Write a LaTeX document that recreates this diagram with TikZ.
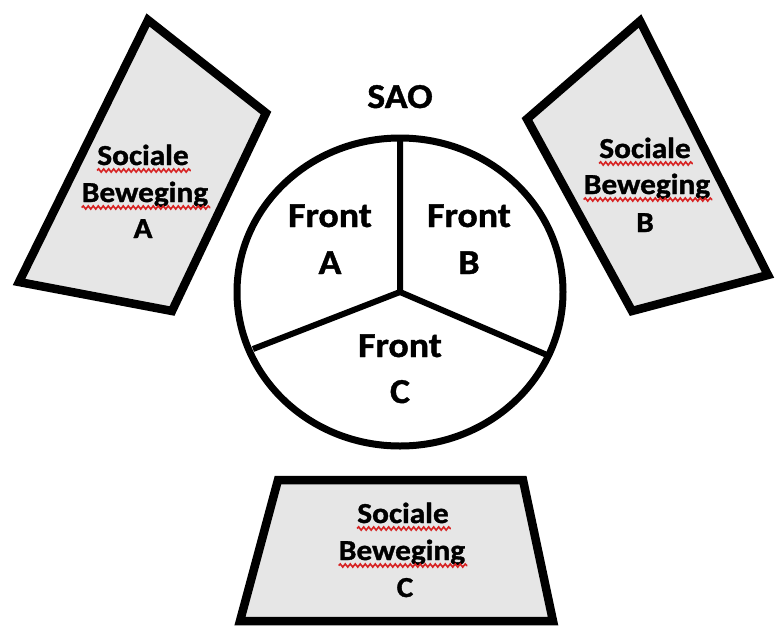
\documentclass[tikz,border=0pt]{standalone}
\usepackage{fontspec}
\setmainfont{Carlito}[FakeStretch=1.08, BoldFeatures={FakeBold=1.2}]
\usetikzlibrary{decorations.pathmorphing}
\definecolor{boxfill}{RGB}{230,230,230}
\definecolor{squigred}{RGB}{215,35,35}
\tikzset{
  smbox/.style={draw=black, fill=boxfill, line width=8.5pt, line join=miter},
  ring/.style={draw=black, line width=7pt},
  spoke/.style={draw=black, line width=6pt},
  bigtxt/.style={font=\bfseries\fontsize{35}{35}\selectfont, inner sep=0pt, anchor=base},
  smtxt/.style={font=\bfseries\fontsize{29}{29}\selectfont, inner sep=0pt, anchor=base},
  squig/.style={draw=squigred, line width=1.6pt, decorate, decoration={snake, amplitude=1.6pt, segment length=5pt}},
}
\newcommand{\squigunder}[1]{\draw[squig] ([yshift=-5.5pt]#1.base west) -- ([yshift=-5.5pt,xshift=2pt]#1.base east);}
\begin{document}
\begin{tikzpicture}[x=1pt, y=-1pt]
\useasboundingbox[fill=white] (0,0) rectangle (780,625);
% side boxes
\draw[smbox] (148,20) -- (266,113) -- (172,311) -- (19,282) -- cycle;
\draw[smbox] (640,21) -- (768,275) -- (632,311) -- (527,119) -- cycle;
\draw[smbox] (278,480) -- (523,480) -- (553,621) -- (240,621) -- cycle;
% circle
\coordinate (c) at (400,292);
\draw[ring] (c) ellipse [x radius=163, y radius=154];
\coordinate (top) at (400,137);
\coordinate (ll) at (253,349);
\coordinate (lr) at (547,355);
\draw[spoke] (top) -- (c) -- (ll);
\draw[spoke] (c) -- (lr);
% texts
\node[bigtxt] (sao) at (400,108) {SAO};
\node[bigtxt] (fa1) at (330,227) {Front};
\node[bigtxt] (fa2) at (330,274) {A};
\node[bigtxt] (fb1) at (469,227) {Front};
\node[bigtxt] (fb2) at (469,274) {B};
\node[bigtxt] (fc1) at (400,357) {Front};
\node[bigtxt] (fc2) at (400,403) {C};
% box texts
\node[smtxt] (sa1) at (143,165) {Sociale};
\node[smtxt] (sa2) at (145,202) {Beweging};
\node[smtxt] (sa3) at (143,238) {A};
\node[smtxt] (sb1) at (645,158) {Sociale};
\node[smtxt] (sb2) at (647,194) {Beweging};
\node[smtxt] (sb3) at (645,232) {B};
\node[smtxt] (sc1) at (403,523) {Sociale};
\node[smtxt] (sc2) at (402,560) {Beweging};
\node[smtxt] (sc3) at (405,597) {C};
\squigunder{sa1}
\squigunder{sa2}
\squigunder{sb1}
\squigunder{sb2}
\squigunder{sc1}
\squigunder{sc2}
\end{tikzpicture}
\end{document}
